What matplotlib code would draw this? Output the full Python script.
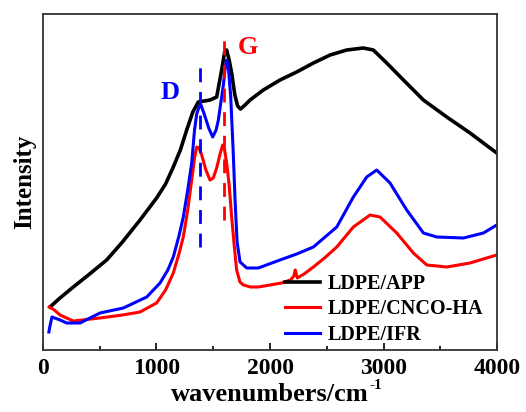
import numpy as np
import matplotlib
matplotlib.use('Agg')
import matplotlib.pyplot as plt
from matplotlib.ticker import MultipleLocator

plt.rcParams['font.family'] = 'Liberation Serif'
plt.rcParams['font.weight'] = 'bold'

# Raman spectra (arbitrary intensity units)
wn_app = [62, 150, 267, 400, 561, 700, 855, 1001, 1080, 1148, 1210, 1266, 1320, 1368,
          1420, 1471, 1530, 1574, 1600, 1618, 1640, 1662, 1690, 1715, 1740, 1780,
          1824, 1941, 2088, 2235, 2382, 2529, 2676, 2822, 2910, 3028, 3175, 3351,
          3557, 3762, 3997]
int_app = [43, 52, 63, 75, 90, 108, 130, 152, 166, 183, 200, 220, 238, 248,
           249, 250, 253, 280, 298, 300, 290, 277, 255, 244, 241, 245,
           250, 260, 270, 278, 287, 295, 300, 302, 300, 287, 270, 250,
           233, 217, 197]

wn_cnco = [56, 100, 150, 267, 502, 700, 855, 1001, 1080, 1148, 1200, 1236, 1275, 1310,
           1335, 1354, 1375, 1398, 1435, 1471, 1500, 1530, 1560, 1583, 1600, 1618,
           1640, 1662, 1685, 1706, 1735, 1765, 1830, 1897, 2000, 2100, 2180, 2210,
           2222, 2240, 2300, 2382, 2480, 2588, 2734, 2881, 2969, 3116, 3263, 3381,
           3557, 3762, 3997]
int_cnco = [43, 40, 35, 29, 32, 35, 38, 47, 60, 77, 97, 113, 140, 170,
            192, 203, 202, 195, 180, 170, 172, 182, 196, 205, 200, 187,
            165, 133, 104, 80, 68, 65, 63, 63, 65, 67, 70, 74,
            80, 72, 76, 83, 92, 103, 123, 135, 133, 117, 97, 85,
            83, 87, 95]

wn_ifr = [52, 58, 79, 150, 209, 326, 502, 708, 914, 1031, 1100, 1148, 1200, 1236, 1275,
          1310, 1335, 1354, 1375, 1392, 1420, 1460, 1495, 1525, 1545, 1570, 1589,
          1605, 1618, 1635, 1654, 1675, 1692, 1710, 1736, 1795, 1897, 2088, 2235,
          2382, 2588, 2734, 2852, 2940, 3057, 3204, 3351, 3469, 3704, 3880, 3997]
int_ifr = [18, 22, 33, 30, 27, 27, 37, 42, 53, 67, 80, 93, 115, 133, 160,
           187, 220, 236, 243, 245, 236, 222, 213, 220, 230, 250, 265,
           282, 290, 280, 253, 200, 150, 108, 88, 82, 82, 90, 96,
           103, 123, 153, 173, 180, 167, 140, 117, 113, 112, 117, 125]

d_band = 1380
g_band = 1595

fig = plt.figure(figsize=(5.26, 4.12), dpi=100)
ax = fig.add_axes([0.0817, 0.1505, 0.8633, 0.8155])

ax.plot(wn_app, int_app, color='black', lw=2.6, label='LDPE/APP')
ax.plot(wn_cnco, int_cnco, color='#ff0000', lw=2.2, label='LDPE/CNCO-HA')
ax.plot(wn_ifr, int_ifr, color='#0000ff', lw=2.2, label='LDPE/IFR')

ax.plot([d_band, d_band], [103, 288], color='#0000ff', lw=2, dashes=(5, 3.5))
ax.plot([g_band, g_band], [130, 315], color='#ff0000', lw=2, dashes=(5, 3.5))
ax.text(1119, 258, 'D', color='#0000ff', fontsize=19, ha='center', va='center', fontweight='bold')
ax.text(1806, 303, 'G', color='#ff0000', fontsize=19, ha='center', va='center', fontweight='bold')

ax.set_xlim(0, 4000)
ax.set_ylim(0, 336)
ax.xaxis.set_major_locator(MultipleLocator(1000))
ax.xaxis.set_minor_locator(MultipleLocator(500))
ax.tick_params(axis='x', which='major', direction='in', length=5, width=1.2,
               labelsize=17, pad=6)
ax.tick_params(axis='x', which='minor', direction='in', length=3, width=1.2)
ax.set_yticks([])
for s in ax.spines.values():
    s.set_linewidth(1.3)
    s.set_color('#333333')

ax.set_xlabel('wavenumbers/cm', fontsize=19, fontweight='bold', labelpad=3)
fig.text(370 / 526, 1 - 379 / 412, '-1', fontsize=11, fontweight='bold', va='top', ha='left')
ax.set_ylabel('Intensity', fontsize=18, fontweight='bold', labelpad=5)

ax.legend(loc='lower right', bbox_to_anchor=(0.997, -0.02), frameon=False,
          handlelength=1.75, handletextpad=0.4, labelspacing=0.27,
          borderaxespad=0.2, prop={'weight': 'bold', 'size': 14.5})

fig.savefig('out.png', dpi=100)
